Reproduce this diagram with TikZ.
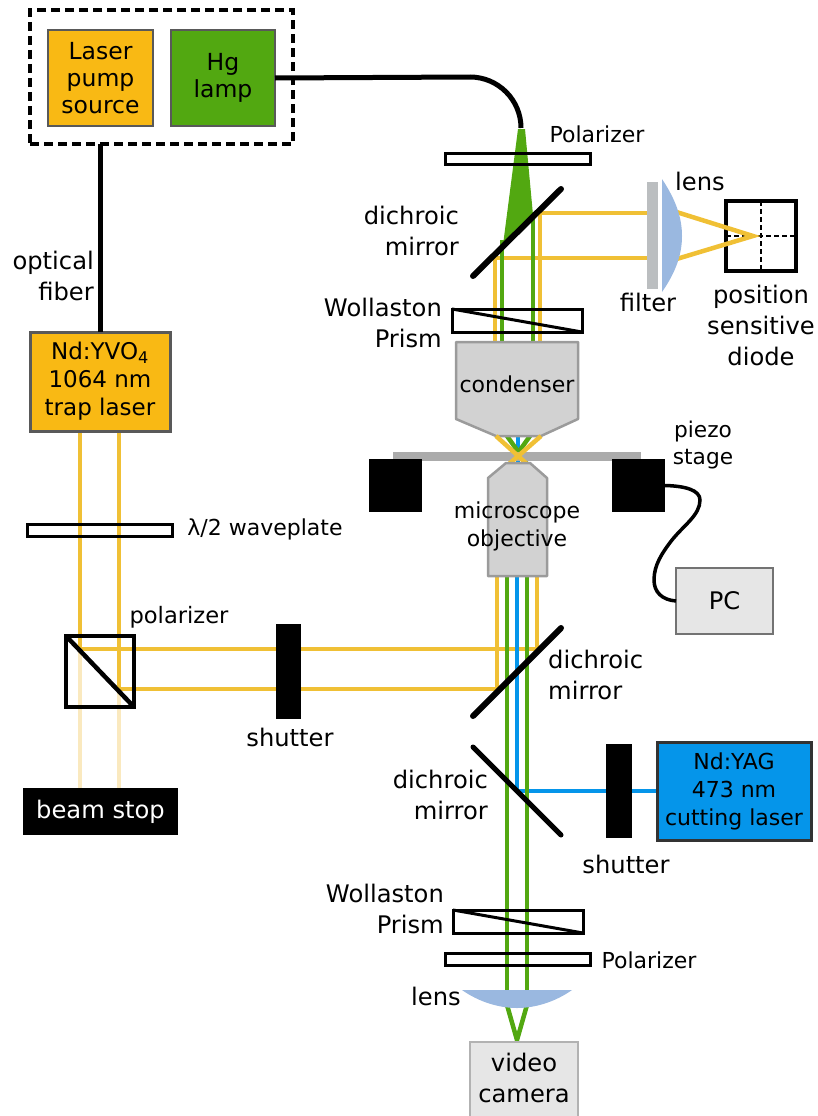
\documentclass[tikz,border=0pt]{standalone}
\usepackage{fontspec}
\setmainfont{DejaVu Sans}
\definecolor{beamY}{HTML}{F0C035}
\definecolor{paleY}{HTML}{FAE9BF}
\definecolor{boxY}{HTML}{F9B914}
\definecolor{beamG}{HTML}{52A811}
\definecolor{beamB}{HTML}{0595EA}
\definecolor{lensB}{HTML}{9AB8E0}
\definecolor{filterG}{HTML}{BBBEC0}
\definecolor{bodyG}{HTML}{D2D2D2}
\definecolor{edgeG}{HTML}{9B9B9B}
\definecolor{lightG}{HTML}{E6E6E6}
\tikzset{
  x=1pt,y=-1pt,
  big/.style={font=\fontsize{24.2}{31}\selectfont,align=center,inner sep=0pt},
  small/.style={font=\fontsize{22}{28}\selectfont,align=center,inner sep=0pt},
  blk/.style={inner sep=0pt,outer sep=0pt,anchor=north west},
  yb/.style={line width=4.5pt,draw=beamY},
  pb/.style={line width=4.5pt,draw=paleY},
  gb/.style={line width=4.5pt,draw=beamG},
  bb/.style={line width=4pt,draw=beamB},
  mirror/.style={line width=6pt,draw=black,line cap=round},
  plate/.style={line width=3pt,draw=black},
  body/.style={line width=2.5pt,draw=edgeG,fill=bodyG,line join=round},
}
\begin{document}
\begin{tikzpicture}
\useasboundingbox (0,0) rectangle (817,1116);
% ---- beams
\draw[pb] (80,649) -- (80,788);
\draw[pb] (119,689) -- (119,788);
\draw[yb] (80,431) -- (80,649) -- (276,649) -- (500,649);
\draw[yb] (119,431) -- (119,689) -- (497,689);
\draw[yb] (497,576) -- (497,689);
\draw[yb] (537,576) -- (537,649) -- (500,649);
\fill[beamG] (518,129) -- (525,129) -- (533,215) -- (503,245) -- cycle;
\draw[yb] (495,342) -- (495,258) -- (647,258);
\draw[yb] (540,342) -- (540,213) -- (647,213);
\draw[gb] (502,240) -- (502,342);
\draw[gb] (533,212) -- (533,342);
\draw[bb] (518,436) -- (518,464);
\draw[gb] (507,436) -- (527,464);
\draw[gb] (530,436) -- (510,464);
\draw[bb] (517,576) -- (517,791) -- (656,791);
\draw[gb] (507,576) -- (507,1000);
\draw[gb] (527,576) -- (527,1000);
\draw[gb] (507,1005) -- (517,1040) -- (527,1005);
% ---- stage
\fill[black!33] (393,452) rectangle (641,461);
\node[blk,fill=black,minimum width=53pt,minimum height=53pt] (lblock) at (369,459) {};
\node[blk,fill=black,minimum width=53pt,minimum height=53pt] (rblock) at (612,459) {};
% ---- condenser and objective
\draw[body] (456,342) -- (578,342) -- (578,419) -- (541,436) -- (496,436) -- (456,419) -- cycle;
\draw[yb] (496,436) -- (527,464);
\draw[yb] (541,436) -- (509,464);
\draw[body] (506,463) -- (530,463) -- (547,478) -- (547,576) -- (488,576) -- (488,478) -- cycle;
% ---- boxes
\node[blk,draw=black,line width=3.5pt,dash pattern=on 9pt off 5pt,minimum width=263pt,minimum height=134pt] (source) at (30,10) {};
\node[blk,draw=black!65,line width=2.5pt,fill=boxY,minimum width=105pt,minimum height=96pt] (pump) at (48,30) {};
\node[big,font=\fontsize{23.5}{27}\selectfont] at (pump.center) {Laser\\pump\\source};
\node[blk,draw=black!65,line width=2.5pt,fill=beamG,minimum width=104pt,minimum height=96pt] (hg) at (171,30) {};
\node[big,font=\fontsize{23.5}{27}\selectfont] at (hg.center) {Hg\\lamp};
\node[blk,draw=black!65,line width=3pt,fill=boxY,minimum width=140pt,minimum height=99pt] (yvo) at (30,332) {};
\node[small,font=\fontsize{23}{28}\selectfont] at (yvo.center) {Nd:YVO\textsubscript{4}\\1064 nm\\trap laser};
\node[blk,fill=black,minimum width=155pt,minimum height=47pt] (stop) at (23,788) {};
\node[big,text=white] at (stop.center) {beam stop};
\node[blk,draw=black!80,line width=3pt,fill=beamB,minimum width=154pt,minimum height=98pt] (yag) at (657,742) {};
\node[small] at (yag.center) {Nd:YAG\\473 nm\\cutting laser};
\node[blk,draw=black!55,line width=2.5pt,fill=lightG,minimum width=97pt,minimum height=66pt] (pc) at (676,568) {};
\node[big] at (pc.center) {PC};
\node[blk,draw=black!30,line width=2.5pt,fill=lightG,minimum width=108pt,minimum height=76pt] (cam) at (470,1042) {};
\node[big] at (524,1078) {video\\camera};
% ---- connectors
\draw[line width=5pt] (hg.east) -- (470,77) arc[start angle=-90,end angle=0,radius=51];
\draw[line width=4.5pt] (pump.center |- source.south) -- (pump.center |- yvo.north);
\draw[line width=3.5pt] (rblock.east) .. controls (685,486) and (700,490) .. (700,500) .. controls (700,515) and (684,525) .. (672,540) .. controls (662,553) and (654,565) .. (654,580) .. controls (654,592) and (662,600) .. (pc.west);
% ---- optics
\node[blk,plate,minimum width=145pt,minimum height=11pt] (pol1) at (445,153) {};
\node[blk,plate,minimum width=145pt,minimum height=12pt] (wave) at (27,524) {};
\node[blk,plate,minimum width=145pt,minimum height=12pt] (pol2) at (445,953) {};
\node[blk,plate,minimum width=130pt,minimum height=23pt] (wol1) at (452,309) {};
\draw[plate] (wol1.north west) -- (wol1.south east);
\node[blk,plate,minimum width=130pt,minimum height=23pt] (wol2) at (453,910) {};
\draw[plate] (wol2.north west) -- (wol2.south east);
\node[blk,draw=black,line width=4.5pt,minimum width=68pt,minimum height=71pt] (cube) at (66,636) {};
\draw[line width=4.5pt] (cube.north west) -- (cube.south east);
\draw[mirror] (473,276) -- (561,189);
\draw[mirror] (473,716) -- (561,628);
\draw[mirror,line width=5pt] (473,747) -- (561,835);
\fill[black] (276,624) rectangle (301,719);
\fill[black] (606,744) rectangle (632,838);
\node[blk,draw=black,line width=4.5pt,minimum width=70pt,minimum height=70pt] (psd) at (726,201) {};
\draw[line width=2pt,dash pattern=on 5pt off 3pt] (psd.north) -- (psd.south);
\draw[line width=2pt,dash pattern=on 5pt off 3pt] (psd.west) -- (psd.east);
\draw[yb] (670,210) -- (753,236) -- (670,261);
\fill[filterG] (647,182) rectangle (658,289);
\fill[white] (658,175) rectangle (662,296);
\fill[lensB] (662,179) .. controls (676,200) and (682,218) .. (682,236) .. controls (682,254) and (676,272) .. (662,292) -- cycle;
\fill[lensB] (462,990) -- (572,990) .. controls (555,1002) and (535,1008) .. (517,1008) .. controls (499,1008) and (479,1002) .. (462,990) -- cycle;
% ---- labels
\node[small] at (597,134) {Polarizer};
\node[big] at (700,181) {lens};
\node[big,align=right,anchor=east] at (459,231) {dichroic\\mirror};
\node[big] at (648,302) {filter};
\node[big] at (761,325) {position\\sensitive\\diode};
\node[big,align=right,anchor=east] at (442,323) {Wollaston\\Prism};
\node[small] at (517,384) {condenser};
\node[small,font=\fontsize{21.7}{27}\selectfont] at (703,445) {piezo\\stage};
\node[small] at (517,526) {microscope\\objective};
\node[big,align=right,anchor=east] at (94,276) {optical\\fiber};
\node[small] at (265,529) {λ/2 waveplate};
\node[big,font=\fontsize{22.6}{28}\selectfont] at (179,617) {polarizer};
\node[big] at (290,737) {shutter};
\node[big,align=left,anchor=west] at (548,675) {dichroic\\mirror};
\node[big,align=right,anchor=east] at (488,795) {dichroic\\mirror};
\node[big] at (626,864) {shutter};
\node[big,align=right,anchor=east] at (444,909) {Wollaston\\Prism};
\node[small] at (649,960) {Polarizer};
\node[big] at (436,996) {lens};
\end{tikzpicture}
\end{document}
